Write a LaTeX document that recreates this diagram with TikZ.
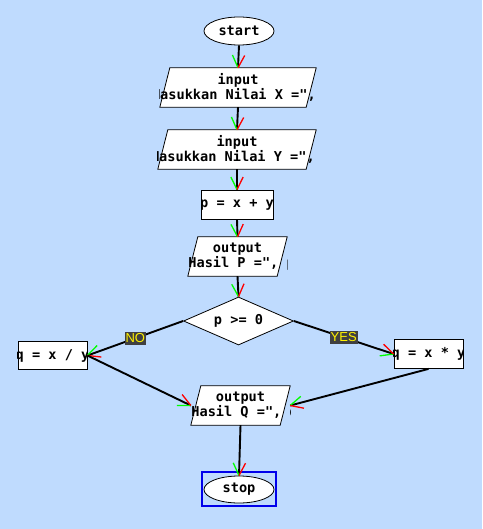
\documentclass[tikz,border=0pt]{standalone}
\usepackage{fontspec}
\newfontfamily\flowfont{DejaVu Sans Mono}
\newfontfamily\branchfont{Liberation Sans}
\usetikzlibrary{shapes.geometric,calc}
\definecolor{bgblue}{RGB}{191,219,254}
\definecolor{tipgreen}{RGB}{0,255,0}
\definecolor{tipred}{RGB}{255,0,0}
\definecolor{labelgray}{RGB}{64,64,64}
\definecolor{frameblue}{RGB}{0,0,235}
\tikzset{
  flowtext/.style={font=\flowfont\bfseries\fontsize{13.6}{15}\selectfont, align=center, inner sep=0pt},
  terminal/.style={ellipse, draw, fill=white, line width=0.8pt, inner sep=0pt, flowtext},
  process/.style={rectangle, draw, fill=white, line width=0.8pt, inner sep=0pt},
  iobase/.style={rectangle, inner sep=0pt, minimum height=39pt},
  ioline/.style={draw=black, fill=white, line width=0.8pt},
  decision/.style={diamond, draw, fill=white, line width=0.8pt, inner sep=0pt},
  flowline/.style={line width=1.9pt, black},
  greenarm/.style={line width=1.3pt, tipgreen},
  redarm/.style={line width=1.3pt, tipred},
  branch/.style={fill=labelgray, text=yellow, font=\branchfont\fontsize{13}{13}\selectfont,
    inner xsep=0.8pt, inner ysep=2pt}
}
% connector with a two coloured tip
\newcommand{\flow}[3][]{%
  \draw[flowline] (#2) -- (#3) #1;
  \draw[greenarm] (#3) -- ($(#3)!14pt!26:(#2)$);
  \draw[redarm] (#3) -- ($(#3)!14pt!-26:(#2)$);
}
% text cut off at the box edges
\newcommand{\cliptext}[3]{%
  \begin{scope}
    \clip (#1) rectangle (#2);
    \node[flowtext] at ($(#1)!0.5!(#2)$) {#3};
  \end{scope}
}
% slanted input/output box
\newcommand{\iobox}[4]{%
  \node[iobase, minimum width=#3] (#1) at (#2) {};
  \filldraw[ioline] (#1.south west) -- ($(#1.south east)+(-10,0)$) -- (#1.north east)
    -- ($(#1.north west)+(10,0)$) -- cycle;
  \cliptext{#1.south west}{#1.north east}{#4}
}
\begin{document}
\begin{tikzpicture}[x=1pt, y=-1pt]
  \fill[bgblue] (0,0) rectangle (482,529);
  % shapes
  \node[terminal, minimum width=70pt, minimum height=28pt] (start) at (239,31) {start};
  \iobox{inx}{238,87.5}{156pt}{input\\"Masukkan Nilai X =", x}
  \iobox{iny}{237,149.5}{158pt}{input\\"Masukkan Nilai Y =", y}
  \node[process, minimum width=72pt, minimum height=29pt] (sump) at (237,204.5) {};
  \cliptext{sump.south west}{sump.north east}{p = x + y}
  \iobox{outp}{237.5,256.5}{99pt}{output\\"Hasil P =", p}
  \node[decision, minimum width=110pt, minimum height=48pt] (cond) at (238.5,321) {};
  \node[flowtext] (condtext) at (cond) {p >= 0};
  \node[process, minimum width=69pt, minimum height=28pt] (divq) at (52.5,355.5) {};
  \cliptext{divq.south west}{divq.north east}{q = x / y}
  \node[process, minimum width=69pt, minimum height=29pt] (mulq) at (428.5,354) {};
  \cliptext{mulq.south west}{mulq.north east}{q = x * y}
  \iobox{outq}{240.5,405.5}{99pt}{output\\"Hasil Q =", q}
  \node[draw=frameblue, line width=2.4pt, minimum width=74pt, minimum height=34pt] (stopframe) at (239,489) {};
  \node[terminal, minimum width=70pt, minimum height=27pt] (stop) at (239,489.5) {stop};
  % connectors
  \flow{start.south}{inx.north}
  \flow{inx.south}{iny.north}
  \flow{iny.south}{sump.north}
  \flow{sump.south}{outp.north}
  \flow{outp.south}{cond.north}
  \flow[{node[branch, midway] {NO}}]{cond.west}{divq.east}
  \flow[{node[branch, midway] {YES}}]{cond.east}{mulq.west}
  \flow{divq.east}{outq.west}
  \flow{mulq.south}{outq.east}
  \flow{outq.south}{stop.north}
\end{tikzpicture}
\end{document}
